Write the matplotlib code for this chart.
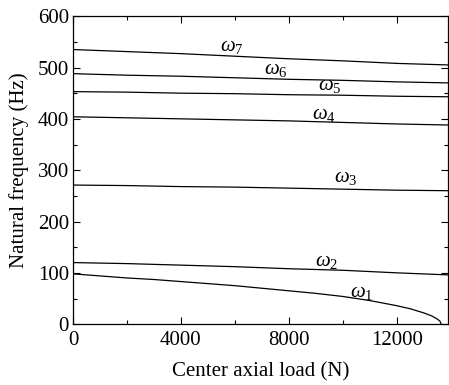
import matplotlib
matplotlib.use('Agg')
import matplotlib.pyplot as plt
from matplotlib.ticker import MultipleLocator

plt.rcParams['font.family'] = ['Liberation Serif', 'DejaVu Serif']
plt.rcParams['mathtext.fontset'] = 'custom'
plt.rcParams['mathtext.rm'] = 'Liberation Serif'
plt.rcParams['mathtext.it'] = 'Liberation Serif:italic'

# axial load (N)
load = [0, 2000, 4000, 6000, 8000, 10000, 12000, 13900]
w7 = [535, 531, 527, 522, 517, 513, 508, 505]
w6 = [488, 485, 483, 480, 477, 475, 472, 470]
w5 = [453, 452, 450, 449, 447, 446, 444, 443]
w4 = [404, 402, 400, 398, 396, 393, 390, 388]
w3 = [271, 270, 268, 267, 265, 263, 261, 260]
w2 = [120, 118, 115, 112, 108, 105, 100, 96]

# first mode drops to zero near the critical load
load1 = [0, 1000, 2000, 3000, 4000, 5000, 6000, 7000, 8000, 9000, 10000,
         11000, 12000, 12500, 13000, 13300, 13500, 13600, 13650]
w1 = [98, 94, 90, 87, 83, 79, 75, 70, 65, 60, 54, 46, 36, 30, 22, 16, 10, 6, 0]

labels = [r'$\omega_7$', r'$\omega_6$', r'$\omega_5$', r'$\omega_4$',
          r'$\omega_3$', r'$\omega_2$', r'$\omega_1$']
label_x = [5900, 7500, 9500, 9300, 10100, 9400, 10700]
label_y = [540, 497, 464, 409, 285, 122, 62]

fig = plt.figure(figsize=(4.49, 3.85), dpi=100)
ax = fig.add_axes([0.1626, 0.158, 0.8352, 0.8])

for ys in [w7, w6, w5, w4, w3, w2]:
    ax.plot(load, ys, color='black', lw=0.9)
ax.plot(load1, w1, color='black', lw=0.9)

for t, x, y in zip(labels, label_x, label_y):
    ax.text(x, y, t, fontsize=15, ha='center', va='center')

ax.set_xlim(0, 13900)
ax.set_ylim(0, 600)
ax.xaxis.set_major_locator(MultipleLocator(4000))
ax.xaxis.set_minor_locator(MultipleLocator(2000))
ax.yaxis.set_major_locator(MultipleLocator(100))
ax.yaxis.set_minor_locator(MultipleLocator(50))
ax.tick_params(which='both', direction='in', top=True, right=True, labelsize=15)
ax.tick_params(which='major', length=5, width=0.8, pad=3)
ax.tick_params(axis='x', which='major', pad=5)
ax.tick_params(which='minor', length=3, width=0.8)
for s in ax.spines.values():
    s.set_linewidth(0.9)

ax.set_xlabel('Center axial load (N)', fontsize=15, labelpad=9)
ax.set_ylabel('Natural frequency (Hz)', fontsize=15, labelpad=6)

fig.savefig('out.png', dpi=100)
